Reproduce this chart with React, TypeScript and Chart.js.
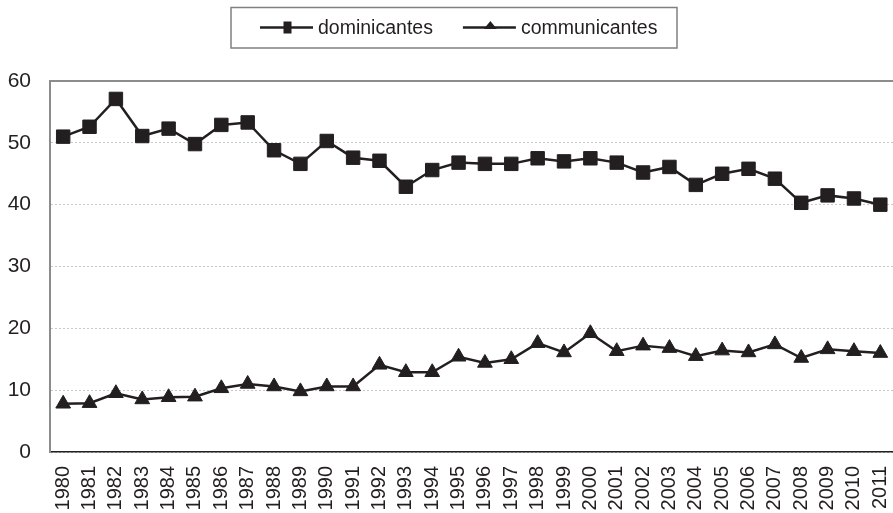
import React, { useEffect, useRef } from "react";
import { Chart, registerables } from "chart.js";

Chart.register(...registerables);

const years: string[] = [
  "1980","1981","1982","1983","1984","1985","1986","1987","1988","1989",
  "1990","1991","1992","1993","1994","1995","1996","1997","1998","1999",
  "2000","2001","2002","2003","2004","2005","2006","2007","2008","2009",
  "2010","2011",
];

const dominicantes: number[] = [
  51.0, 52.6, 57.1, 51.1, 52.3, 49.8, 52.9, 53.3, 48.8, 46.6,
  50.3, 47.6, 47.1, 42.9, 45.6, 46.8, 46.6, 46.6, 47.5, 47.0,
  47.5, 46.8, 45.2, 46.1, 43.2, 45.0, 45.8, 44.2, 40.3, 41.5,
  41.0, 40.0,
];

const communicantes: number[] = [
  7.8, 7.9, 9.5, 8.5, 8.85, 8.95, 10.3, 11.0, 10.6, 9.8,
  10.6, 10.6, 14.1, 12.9, 12.9, 15.4, 14.4, 15.0, 17.6, 16.1,
  19.2, 16.3, 17.2, 16.8, 15.5, 16.4, 16.1, 17.4, 15.2, 16.6,
  16.3, 16.0,
];

const yTicks: number[] = [0, 10, 20, 30, 40, 50, 60];

const INK = "#231f20";
const FONT = "Liberation Sans, Arial, sans-serif";

const boxLegendPlugin = {
  id: "boxLegend",
  afterDraw(chart: any) {
    const ctx = chart.ctx as CanvasRenderingContext2D;
    const items = chart.data.datasets.map((d: any) => ({ label: d.label, style: d.pointStyle }));
    ctx.save();
    ctx.strokeStyle = "#808080";
    ctx.lineWidth = 1.5;
    ctx.strokeRect(231, 7.5, 446, 40.5);
    ctx.font = `19.5px ${FONT}`;
    ctx.textBaseline = "middle";
    ctx.fillStyle = INK;
    const lineLen = 53;
    const gap = 30;
    const textGap = 5;
    let x = 260;
    const y = 27.5;
    items.forEach((it: any) => {
      ctx.strokeStyle = INK;
      ctx.lineWidth = 2.5;
      ctx.beginPath();
      ctx.moveTo(x, y);
      ctx.lineTo(x + lineLen, y);
      ctx.stroke();
      const cx = x + lineLen / 2 + 1;
      ctx.fillStyle = INK;
      if (it.style === "rect") {
        ctx.fillRect(cx - 4, y - 6, 8, 12);
      } else {
        ctx.beginPath();
        ctx.moveTo(cx - 6.5, y + 1.5);
        ctx.lineTo(cx + 6.5, y + 1.5);
        ctx.lineTo(cx, y - 6.5);
        ctx.closePath();
        ctx.fill();
      }
      const tx = x + lineLen + textGap;
      ctx.textAlign = "left";
      ctx.fillText(it.label, tx, y + 1);
      const w = ctx.measureText(it.label).width;
      x = tx + w + gap;
    });
    ctx.restore();
  },
};

export default function App() {
  const ref = useRef<HTMLCanvasElement | null>(null);

  useEffect(() => {
    if (!ref.current) return;
    const chart = new Chart(ref.current, {
      type: "line",
      data: {
        labels: years,
        datasets: [
          {
            label: "dominicantes",
            data: dominicantes,
            borderColor: INK,
            backgroundColor: INK,
            borderWidth: 2.5,
            pointStyle: "rect",
            pointRadius: 9.5,
            pointBorderWidth: 1,
            tension: 0,
          },
          {
            label: "communicantes",
            data: communicantes,
            borderColor: INK,
            backgroundColor: INK,
            borderWidth: 2.5,
            pointStyle: "triangle",
            pointRadius: 8.5,
            pointBorderWidth: 1,
            tension: 0,
          },
        ],
      },
      options: {
        responsive: false,
        animation: false,
        layout: { padding: { top: 81, left: 0, right: 0, bottom: 0 } },
        plugins: {
          legend: { display: false },
          tooltip: { enabled: false },
        },
        scales: {
          x: {
            offset: true,
            grid: { display: false, drawTicks: false },
            border: { display: true, color: INK, width: 1.5 },
            ticks: {
              color: INK,
              font: { family: FONT, size: 20 },
              minRotation: 90,
              maxRotation: 90,
              autoSkip: false,
              padding: 14,
            },
            afterFit: (s: any) => {
              s.height = 61;
              s.paddingLeft = 0;
              s.paddingRight = 0;
            },
          },
          y: {
            min: 0,
            max: 60,
            afterBuildTicks: (s: any) => {
              s.ticks = yTicks.map((v) => ({ value: v }));
            },
            grid: {
              drawTicks: false,
              color: (c: any) => (c.tick && c.tick.value === 60 ? "#8c8c8c" : "#c8c8c8"),
              lineWidth: (c: any) => (c.tick && c.tick.value === 60 ? 2 : 1),
            },
            border: {
              display: true,
              color: "#8c8c8c",
              width: 2,
              dash: (c: any) => (c.tick && c.tick.value === 60 ? [] : [2, 2]),
            } as any,
            ticks: {
              color: INK,
              font: { family: FONT, size: 21 },
              padding: 19,
            },
            afterFit: (s: any) => {
              s.width = 50;
            },
          },
        },
      },
      plugins: [boxLegendPlugin],
    });
    return () => chart.destroy();
  }, []);

  return (
    <div style={{ position: "absolute", left: 0, top: 0, width: 893, height: 513, overflow: "hidden", background: "#fff" }}>
      <canvas ref={ref} width={904} height={513} style={{ display: "block", width: 904, height: 513 }} />
    </div>
  );
}
